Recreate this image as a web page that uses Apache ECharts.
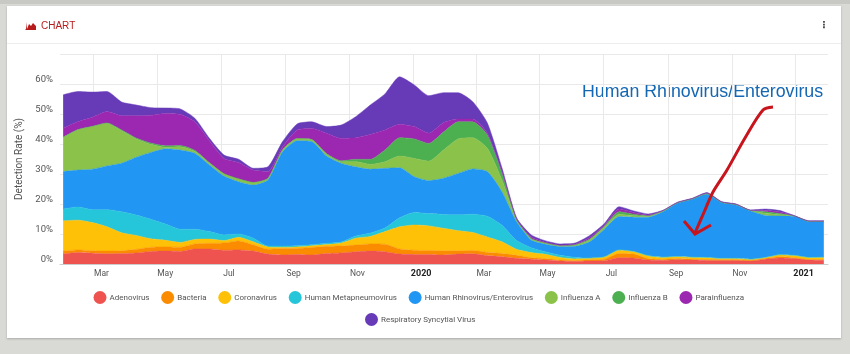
<!DOCTYPE html>
<html>
<head>
<meta charset="utf-8">
<title>Chart</title>
<script src="https://cdn.jsdelivr.net/npm/echarts@6/dist/echarts.min.js"></script>
<style>
html, body { margin: 0; width: 850px; height: 354px; overflow: hidden; background: #d9d9d5; }
#topbar { position: absolute; left: 0; top: 0; width: 850px; height: 4px; background: #c8c8c4; }
#card { position: absolute; left: 7px; top: 6px; width: 834px; height: 332px; background: #fff; box-shadow: 0 1px 2px #aaa; }
#divider { position: absolute; left: 7px; top: 43px; width: 834px; height: 1px; background: #eeeeee; }
#main { position: absolute; left: 0; top: 0; width: 850px; height: 354px; }
</style>
</head>
<body>
<div id="topbar"></div>
<div id="card"></div>
<div id="divider"></div>
<div id="main"></div>
<script>
let dates = ['2019-01-31','2019-02-14','2019-02-28','2019-03-14','2019-03-28','2019-04-11','2019-04-25','2019-05-09','2019-05-23','2019-06-06','2019-06-20','2019-07-04','2019-07-18','2019-08-01','2019-08-15','2019-08-29','2019-09-12','2019-09-26','2019-10-10','2019-10-24','2019-11-07','2019-11-21','2019-12-05','2019-12-19','2020-01-02','2020-01-16','2020-01-30','2020-02-13','2020-02-27','2020-03-12','2020-03-26','2020-04-09','2020-04-23','2020-05-07','2020-05-21','2020-06-04','2020-06-18','2020-07-02','2020-07-16','2020-07-30','2020-08-13','2020-08-27','2020-09-10','2020-09-24','2020-10-08','2020-10-22','2020-11-05','2020-11-19','2020-12-03','2020-12-17','2020-12-31','2021-01-14','2021-01-28'];

let adenovirus = [3.3,3.8,3.6,3.4,3.5,3.7,4.2,4.3,4.2,5,5,4.6,4.7,4.3,3.3,3,3.2,3,3.5,3.7,4.1,4.3,4.1,3.3,3.2,3.2,3,3.3,3.4,2.8,2.4,1.9,1.6,1.3,1,0.9,1,1.1,2.1,2,1.3,1.2,1.4,1.3,1.2,1.2,1.2,1,1.6,2,1.8,1.3,1.2];
let bacteria = [1,0.9,0.8,0.9,0.9,1.2,1.4,1.4,1.4,1.7,1.9,2.4,3,2.1,1.6,2.2,2,2.5,2.4,2.3,2.2,2.4,2.5,1.7,1.4,1.3,1.4,1.1,1.1,1.1,1.1,1,0.5,0.5,0.3,0.2,0.4,0.5,1.4,1.3,0.5,0.3,0.4,0.3,0.3,0.2,0.2,0.2,0.2,0.4,0.3,0.2,0.3];
let coronavirus = [10.1,9.9,9.4,8.1,6,4.6,2.8,2.2,1.6,1.5,1.4,0.8,1.2,1,0.8,0.4,0.5,0.6,0.6,1,2.3,2.5,4.2,7.4,8.4,8.2,7.5,6.7,6,5.1,3.9,2,1.7,1.4,0.9,0.6,0.5,0.7,1.1,0.8,0.9,0.7,0.6,0.6,0.6,0.4,0.4,0.3,0.3,0.6,0.7,0.6,0.7];
let metapneumovirus = [3.9,4.4,4.3,5.7,7,6.8,6.5,5.4,4.4,3.4,2.5,1.9,1.1,1.2,0.3,0.4,0.4,0.3,0.4,0.3,0.7,1.1,1.2,3,4.2,4.1,4.6,5.3,6.1,6.9,5.5,2.9,1.6,0.8,0.7,0.5,0.1,0.1,0.1,0.1,0.1,0.1,0.1,0.1,0.1,0.1,0.1,0.1,0.1,0.1,0.1,0.1,0.1];
let rhinovirus = [12.5,12.3,13.5,14.6,16.2,19.3,22.3,25.1,26.4,25.3,22.2,19.6,17.4,17.7,22,31.4,35,34.4,29.1,26.3,23.1,21.3,19.9,16.7,11.9,11,12.1,13.8,15.1,14.9,11.2,6.3,2.6,2.6,2.9,3.7,5.4,9.2,11.1,11.4,12.8,15.1,17.8,19.3,21.1,18.6,17.8,16.1,14,12.9,13,11.9,11.8];
let influenzaA = [11.4,13.4,14.2,14.2,10.8,6.1,2.7,0.5,1.1,0.7,0.6,0.7,0.9,0.8,0.5,0.6,0.6,0.6,0.7,0.5,1.7,1.6,2.2,3.9,6.1,6.5,9.4,11.5,10.4,7.8,3.9,0.5,0.3,0.3,0.2,0.3,0.6,0.7,0.8,0.5,0.3,0.2,0.1,0.1,0.1,0.1,0.1,0.1,0.7,0.4,0.1,0.1,0.1];
let influenzaB = [0.1,0.1,0.1,0.1,0.3,0.3,0.4,0.5,0.4,0.3,0.2,0.1,0.1,0.1,0.1,0.1,0.1,0.1,0.1,0.3,0.8,1.7,3.9,6.1,6.5,5.9,6,5.7,5.3,4.4,2.2,0.2,0.2,0.1,0.1,0.2,0.3,0.3,0.8,0.5,0.2,0.1,0,0,0,0,0,0,0.5,0.4,0,0,0];
let parainfluenza = [2.9,2.6,3,3.8,4.7,7.4,9.3,10.8,10.4,9.5,7.3,5.1,5.4,4.1,2.2,1,2.9,3.7,6.8,7.5,7.2,8.3,6.7,4.5,4.1,3.4,3.1,0.9,0.9,0.6,0.6,0.1,0.5,0.2,0.2,0.2,0.5,0.3,0.9,0.6,0.2,0.1,0.1,0.1,0.2,0.1,0.1,0.1,0.4,0.5,0,0.1,0.1];
let rsv = [11.2,10.1,8.4,6.7,4.6,3.6,2.5,1.8,1.8,1.2,0.8,1.1,1.1,0.6,1.6,1.7,2,2.2,2.2,4.4,7,9.8,12,15.8,13.9,12.5,10,8.8,5.8,3.4,1.2,0.5,0.7,0.5,0.4,0.4,0.7,0.6,0.8,0.5,0.4,0.1,0.1,0.1,0.2,0.1,0.1,0.1,0.5,0.5,0.1,0.1,0.1];

let names = ['Adenovirus','Bacteria','Coronavirus','Human Metapneumovirus','Human Rhinovirus/Enterovirus','Influenza A','Influenza B','Parainfluenza','Respiratory Syncytial Virus'];
let values = [adenovirus,bacteria,coronavirus,metapneumovirus,rhinovirus,influenzaA,influenzaB,parainfluenza,rsv];
let colors = ['#ef5350','#fb8c00','#ffc107','#26c6da','#2196f3','#8bc34a','#4caf50','#9c27b0','#673ab7'];
let monthNames = ['Jan','Feb','Mar','Apr','May','Jun','Jul','Aug','Sep','Oct','Nov','Dec'];
let font = 'Roboto';

let chart = echarts.init(document.getElementById('main'), null, { renderer: 'canvas' });

let series = names.map(function(name, i) {
    return {
        name: name,
        type: 'line',
        stack: 'rate',
        smooth: 0.2,
        showSymbol: false,
        silent: true,
        lineStyle: { width: 0.5, color: colors[i] },
        itemStyle: { color: colors[i] },
        areaStyle: { color: colors[i], opacity: 1 },
        data: dates.map(function(d, k) { return [d, values[i][k]]; })
    };
});

let legendBase = {
    orient: 'horizontal',
    icon: 'circle',
    itemWidth: 13,
    itemHeight: 13,
    itemGap: 11.7,
    width: 720,
    selectedMode: false,
    textStyle: { fontFamily: font, fontSize: 8, color: '#555', padding: [3, 0, 0, -2] }
};

chart.setOption({
    animation: false,
    backgroundColor: 'transparent',
    color: colors,
    grid: { left: 60, right: 22, top: 54, bottom: 90 },
    legend: [
        Object.assign({}, legendBase, { left: 88.5, top: 286, data: names.slice(0, 8) }),
        Object.assign({}, legendBase, { left: 360, top: 308, data: names.slice(8) })
    ],
    xAxis: {
        type: 'time',
        min: '2019-01-28',
        max: '2021-02-01',
        splitNumber: 12,
        axisTick: { show: false },
        axisLine: { lineStyle: { color: '#cccccc', width: 1 } },
        splitLine: { show: true, showMinLine: false, showMaxLine: false, lineStyle: { color: '#e9e9e9', width: 1 } },
        axisLabel: {
            fontFamily: font,
            fontSize: 8.5,
            color: '#555',
            margin: 5,
            padding: [0, 0, 0, 16],
            hideOverlap: false,
            formatter: function(value) {
                let d = new Date(value);
                if (d.getMonth() == 0) return '{year|' + d.getFullYear() + '}';
                return monthNames[d.getMonth()];
            },
            rich: { year: { fontFamily: font, fontSize: 9, fontWeight: 'bold', color: '#222' } }
        }
    },
    yAxis: {
        type: 'value',
        min: 0,
        max: 70,
        interval: 10,
        name: 'Detection Rate (%)',
        nameLocation: 'middle',
        nameGap: 29,
        nameTextStyle: { fontFamily: font, fontSize: 10, color: '#555' },
        axisLine: { show: false },
        axisTick: { show: false },
        splitLine: { lineStyle: { color: '#e9e9e9', width: 1 } },
        axisLabel: {
            fontFamily: font,
            fontSize: 9.5,
            color: '#555',
            margin: 7,
            verticalAlign: 'bottom',
            lineHeight: 8,
            formatter: function(v) { return v == 70 ? '' : v + '%'; }
        }
    },
    graphic: [
        { type: 'polygon', silent: true, shape: { points: [[26,29],[26,22],[27,29],[29,24],[31,26],[33,23],[36,26],[36,30],[25,30]] }, style: { fill: '#b71c1c' } },
        { type: 'text', left: 41, top: 21, style: { text: 'CHART', fontFamily: 'Liberation Sans', fontSize: 10, fill: '#b71c1c' } },
        { type: 'text', left: 819, top: 20, style: { text: '\u22EE', fontFamily: 'DejaVu Sans', fontSize: 10, fontWeight: 'bold', fill: '#444' } },
        { type: 'text', left: 582, top: 83, style: { text: 'Human Rhinovirus/Enterovirus', fontFamily: 'Liberation Sans', fontSize: 17.8, fill: '#1467b3' } },
        // hand drawn arrow
        { type: 'polyline', silent: true, z: 20, shape: { smooth: 0.3, points: [[773,107],[763,110],[745,138],[727,170],[713,192],[705,210],[695,233]] }, style: { stroke: '#c8141c', lineWidth: 3, fill: null } },
        { type: 'polyline', silent: true, z: 20, shape: { points: [[684,221],[695,234],[711,225]] }, style: { stroke: '#c8141c', lineWidth: 3, fill: null } }
    ],
    series: series
});
</script>
</body>
</html>
